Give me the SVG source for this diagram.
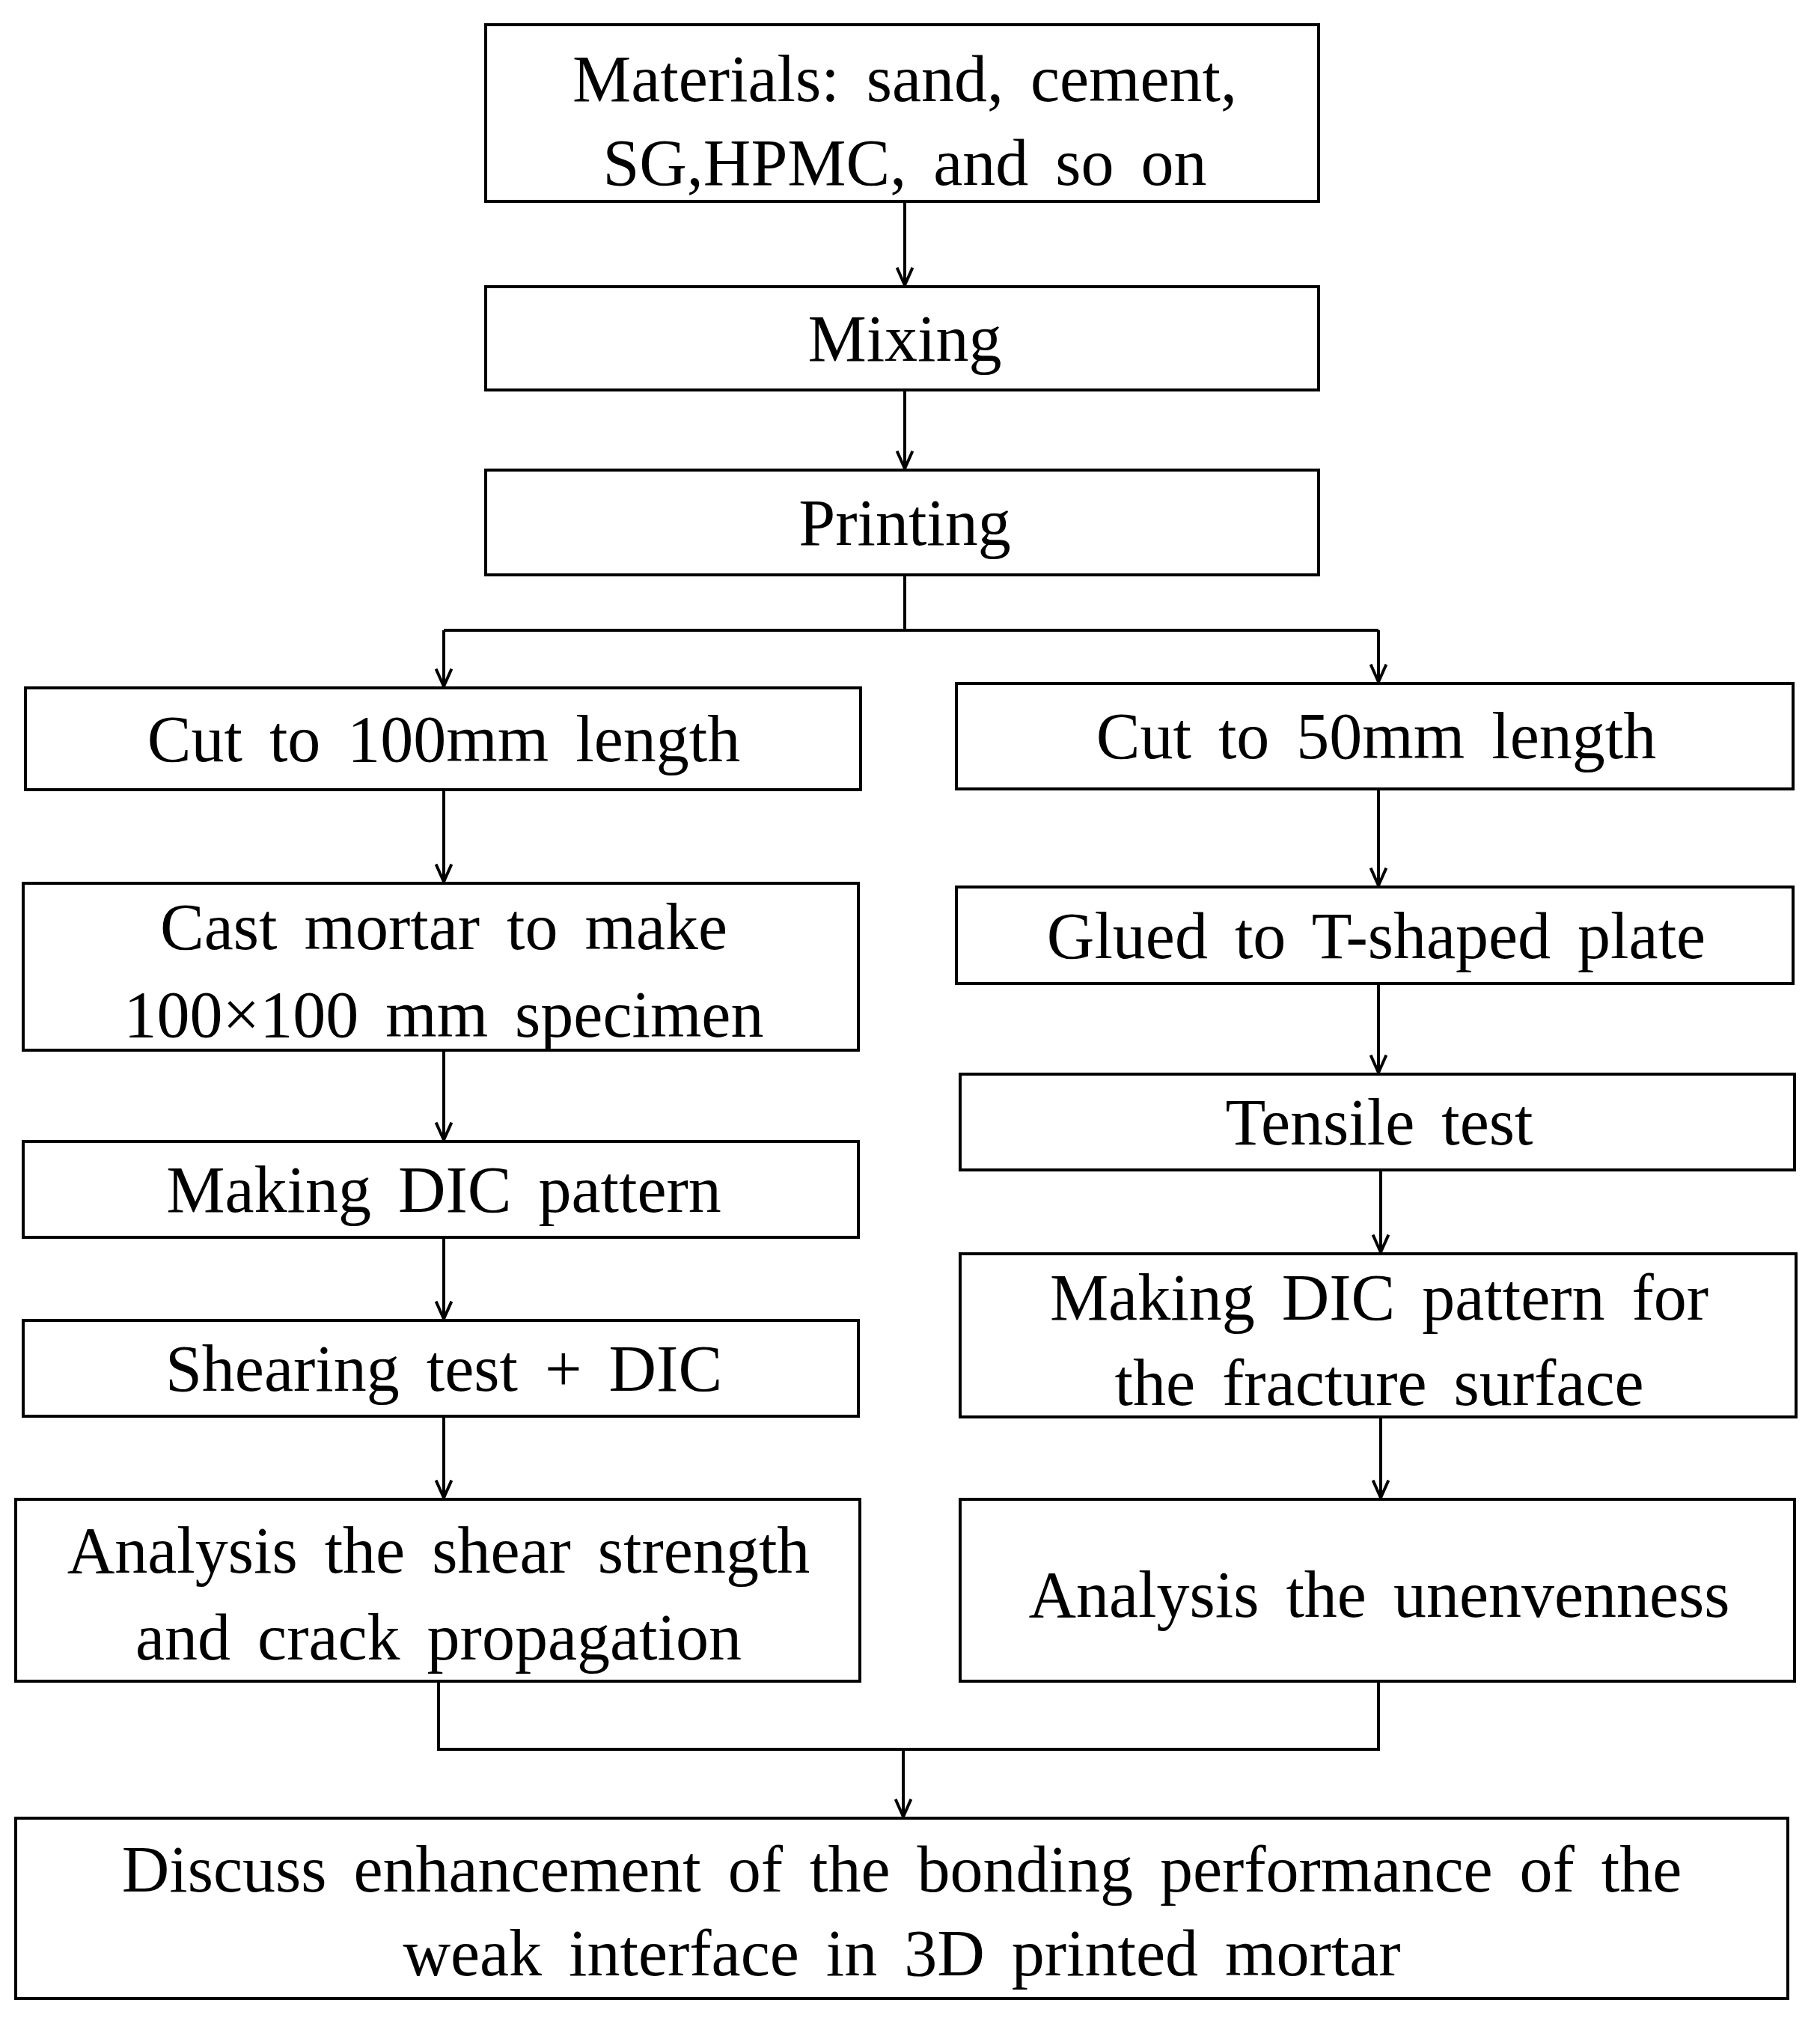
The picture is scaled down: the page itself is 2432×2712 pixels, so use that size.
<svg xmlns="http://www.w3.org/2000/svg" width="2432" height="2712" viewBox="0 0 2432 2712">
<style>
rect{fill:#fff;stroke:#000;stroke-width:4}
text{font-family:"Liberation Serif","Times New Roman",serif;font-size:88px;text-anchor:middle;fill:#000;word-spacing:14px}
.c{dominant-baseline:central}
#connectors path{fill:none;stroke:#000;stroke-width:4;marker-end:url(#a)}
#connectors .n{marker-end:none}
</style>
<defs><marker id="a" viewBox="0 0 20 20" refX="19" refY="10" markerWidth="26" markerHeight="26" markerUnits="userSpaceOnUse" orient="auto"><path d="M1,2 L19,10 L1,18" fill="none" stroke="#000" stroke-width="3"/></marker></defs>
<rect width="2432" height="2712" style="stroke:none"/>
<g id="n1"><rect x="649" y="33" width="1113" height="236"/><text x="1209" y="135">Materials: sand, cement,</text><text x="1209" y="247">SG,HPMC, and so on</text></g>
<g id="n2"><rect x="649" y="383" width="1113" height="138"/><text class="c" x="1209" y="452">Mixing</text></g>
<g id="n3"><rect x="649" y="628" width="1113" height="140"/><text class="c" x="1209" y="698">Printing</text></g>
<g id="l1"><rect x="34" y="919" width="1116" height="136"/><text class="c" x="593" y="987">Cut to 100mm length</text></g>
<g id="l2"><rect x="31" y="1180" width="1116" height="223"/><text x="593" y="1268">Cast mortar to make</text><text x="593" y="1385">100×100 mm specimen</text></g>
<g id="l3"><rect x="31" y="1525" width="1116" height="128"/><text class="c" x="593" y="1589">Making DIC pattern</text></g>
<g id="l4"><rect x="31" y="1764" width="1116" height="128"/><text class="c" x="593" y="1828">Shearing test + DIC</text></g>
<g id="l5"><rect x="21" y="2003" width="1128" height="243"/><text x="586" y="2101">Analysis the shear strength</text><text x="586" y="2217">and crack propagation</text></g>
<g id="r1"><rect x="1278" y="913" width="1118" height="141"/><text class="c" x="1839" y="983">Cut to 50mm length</text></g>
<g id="r2"><rect x="1278" y="1185" width="1118" height="129"/><text class="c" x="1839" y="1250">Glued to T-shaped plate</text></g>
<g id="r3"><rect x="1283" y="1435" width="1115" height="128"/><text class="c" x="1843" y="1499">Tensile test</text></g>
<g id="r4"><rect x="1283" y="1675" width="1117" height="218"/><text x="1843" y="1763">Making DIC pattern for</text><text x="1843" y="1877">the fracture surface</text></g>
<g id="r5"><rect x="1283" y="2003" width="1115" height="243"/><text class="c" x="1843" y="2130">Analysis the unenvenness</text></g>
<g id="b"><rect x="21" y="2429" width="2368" height="241"/><text x="1205" y="2527">Discuss enhancement of the bonding performance of the</text><text x="1205" y="2639">weak interface  in 3D printed mortar</text></g>
<g id="connectors">
<path d="M1209,269 V381"/>
<path d="M1209,521 V626"/>
<path class="n" d="M1209,768 V842 M593,842 H1842"/>
<path d="M593,842 V917"/>
<path d="M1842,842 V911"/>
<path d="M593,1055 V1178"/>
<path d="M593,1403 V1523"/>
<path d="M593,1653 V1762"/>
<path d="M593,1892 V2001"/>
<path d="M1842,1054 V1183"/>
<path d="M1842,1314 V1433"/>
<path d="M1845,1563 V1673"/>
<path d="M1845,1893 V2001"/>
<path class="n" d="M586,2246 V2337 H1842 V2246"/>
<path d="M1207,2337 V2427"/>
</g>
</svg>
